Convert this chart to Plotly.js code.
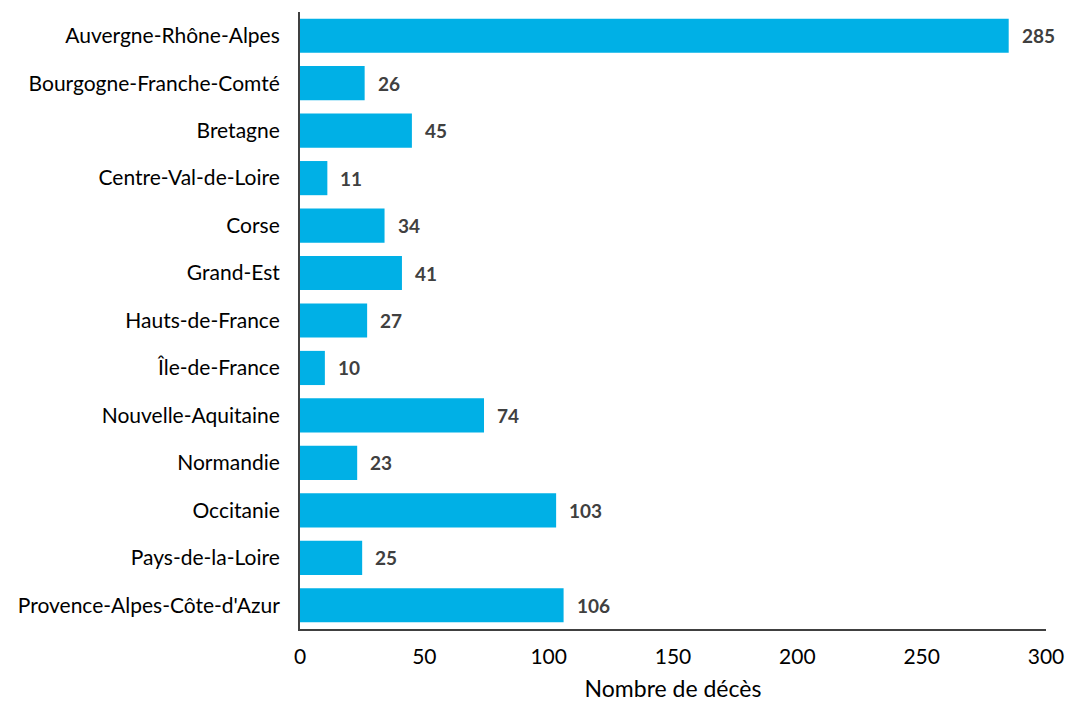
<!DOCTYPE html>
<html><head><meta charset="utf-8">
<script src="https://cdn.plot.ly/plotly-3.0.1.min.js"></script>
<style>body{margin:0;background:#fff}#c{width:1068px;height:706px}</style>
</head><body><div id="c"></div>
<script>
const regions = ["Auvergne-Rhône-Alpes","Bourgogne-Franche-Comté","Bretagne","Centre-Val-de-Loire","Corse","Grand-Est","Hauts-de-France","Île-de-France","Nouvelle-Aquitaine","Normandie","Occitanie","Pays-de-la-Loire","Provence-Alpes-Côte-d'Azur"];
const deaths = [285,26,45,11,34,41,27,10,74,23,103,25,106];
const xTitle = "Nombre de décès";
const FONT = "Lato, 'Open Sans', sans-serif";

const trace = {
  type: 'bar', orientation: 'h', y: regions, x: deaths,
  marker: {color: '#00B0E6'}, hoverinfo: 'x+y'
};
const annotations = regions.map((r,i)=>({
  x: deaths[i], y: r, xref:'x', yref:'y', text: '<b>'+deaths[i]+'</b>',
  showarrow:false, xanchor:'left', xshift: 11,
  font:{family:FONT, size:19, color:'#404040'}
}));
const layout = {
  width:1068, height:706,
  margin:{l:300, r:22, t:12, b:77},
  paper_bgcolor:'#fff', plot_bgcolor:'#fff',
  bargap:0.28,
  showlegend:false,
  xaxis:{range:[0,300], dtick:50, tick0:0, showgrid:false, zeroline:false,
    showline:true, linecolor:'#404040', linewidth:2, ticks:'',
    tickfont:{family:FONT, size:21, color:'#000'}, ticklabelstandoff:8,
    title:{text:xTitle, font:{family:FONT, size:23, color:'#000'}, standoff:14}},
  yaxis:{autorange:'reversed', showgrid:false, zeroline:false, showline:true,
    linecolor:'#404040', linewidth:2, ticks:'', ticklabelstandoff:14,
    tickfont:{family:FONT, size:21, color:'#000'}},
  annotations: annotations
};
Plotly.newPlot('c',[trace],layout,{displayModeBar:false, staticPlot:true});
</script></body></html>
